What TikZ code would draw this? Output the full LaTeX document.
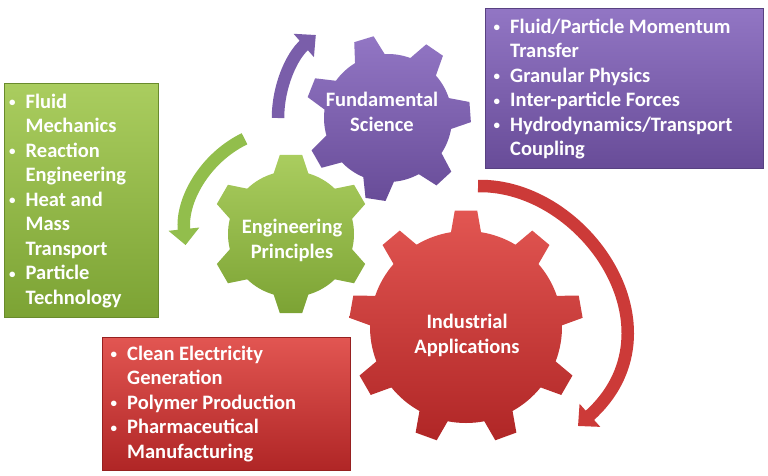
\documentclass[tikz,border=0pt]{standalone}
\usepackage{fontspec}
\setmainfont{Carlito}
\usetikzlibrary{arrows.meta}

\definecolor{violetTop}{RGB}{146,118,196}
\definecolor{violetBot}{RGB}{104,76,152}
\definecolor{violetArrow}{RGB}{122,94,170}
\definecolor{oliveTop}{RGB}{170,205,95}
\definecolor{oliveBot}{RGB}{124,163,52}
\definecolor{oliveArrow}{RGB}{146,190,76}
\definecolor{brickTop}{RGB}{226,86,82}
\definecolor{brickBot}{RGB}{176,38,38}
\definecolor{brickArrow}{RGB}{204,58,56}

\newcommand{\bull}{\makebox[18pt][l]{\hspace{1.5pt}\raisebox{1.5pt}{\fontsize{13}{13}\selectfont\textbullet}}}

\begin{document}
\begin{tikzpicture}[x=1pt, y=-1pt,
  listbox/.style={top color=#1Top, bottom color=#1Bot, draw=#1Bot!85!black, line width=0.5pt},
  cog/.style={top color=#1Top, bottom color=#1Bot},
  cogtext/.style={text=white, align=center, inner sep=0pt,
    font=\fontsize{20.5}{25}\selectfont\bfseries},
  listtext/.style={text=white, anchor=north west, inner sep=0pt,
    font=\fontsize{20.5}{24.5}\selectfont\bfseries},
  cyclearrow/.style={draw=#1, line width=12.5pt, -{Triangle[width=30pt, length=16pt]}}]
\useasboundingbox (0, 0) rectangle (768, 475);

% Boxes
\shade[listbox=olive] (4, 83) rectangle (158, 317);
\shade[listbox=violet] (485, 8) rectangle (763, 168);
\shade[listbox=brick] (102, 337) rectangle (350, 470);

% Cogs
\coordinate (fsc) at (388, 118);
\coordinate (epc) at (291, 234);
\coordinate (iac) at (466, 327);
\shade[cog=violet, shift={(fsc)}] (253-14:64)
  \foreach \k in {0,...,6} {
    -- (253+\k*360/7-7:83) -- (253+\k*360/7+7:83) -- (253+\k*360/7+14:64)
    arc[start angle=253+\k*360/7+14, end angle=253+\k*360/7+360/7-14, radius=64]
  } -- cycle;
\shade[cog=olive, shift={(epc)}] (270-16:63)
  \foreach \k in {0,...,5} {
    -- (270+\k*60-8:80) -- (270+\k*60+8:80) -- (270+\k*60+16:63)
    arc[start angle=270+\k*60+16, end angle=270+\k*60+60-16, radius=63]
  } -- cycle;
\shade[cog=brick, shift={(iac)}] (270-9:96)
  \foreach \k in {0,...,8} {
    -- (270+\k*40-5.5:117) -- (270+\k*40+5.5:117) -- (270+\k*40+9:96)
    arc[start angle=270+\k*40+9, end angle=270+\k*40+40-9, radius=96]
  } -- cycle;

% Arrows
\coordinate (iatail) at (478, 186);
\coordinate (iahead) at (578, 426);
\draw[cyclearrow=violetArrow] ([shift={(180:110)}]fsc) arc[start angle=180, end angle=229, radius=110];
\draw[cyclearrow=oliveArrow] ([shift={(244:106)}]epc) arc[start angle=244, end angle=174, radius=106];
\draw[cyclearrow=brickArrow] (iatail) .. controls (585, 184) and (685, 330) .. (iahead);

% Cog labels
\node[cogtext] (fs) at (382, 112) {Fundamental\\Science};
\node[cogtext] (ep) at (292, 240) {Engineering\\Principles};
\node[cogtext] (ia) at (467, 335) {Industrial\\Applications};

% Lists
\node[listtext] (eplist) at (7.5, 90.8) {\begin{tabular}{@{}l@{}l@{}}
\bull & Fluid\\ & Mechanics\\
\bull & Reaction\\ & Engineering\\
\bull & Heat and\\ & Mass\\ & Transport\\
\bull & Particle\\ & Technology
\end{tabular}};
\node[listtext] (fslist) at (492, 15.8) {\begin{tabular}{@{}l@{}l@{}}
\bull & Fluid/Particle Momentum\\ & Transfer\\
\bull & Granular Physics\\
\bull & Inter-particle Forces\\
\bull & Hydrodynamics/Transport\\ & Coupling
\end{tabular}};
\node[listtext] (ialist) at (109, 342.8) {\begin{tabular}{@{}l@{}l@{}}
\bull & Clean Electricity\\ & Generation\\
\bull & Polymer Production\\
\bull & Pharmaceutical\\ & Manufacturing
\end{tabular}};
\end{tikzpicture}
\end{document}
